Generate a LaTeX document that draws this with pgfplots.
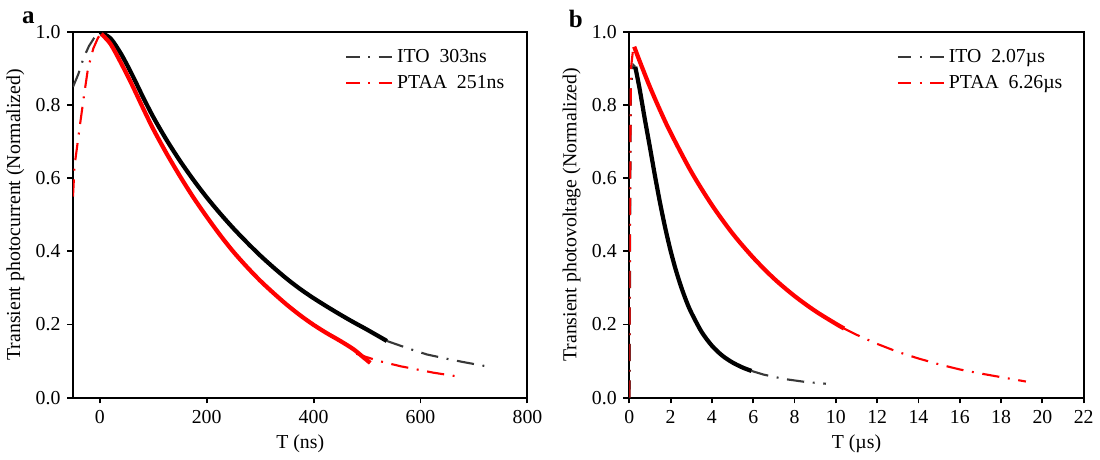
\documentclass[border=0pt]{standalone}
\usepackage{pgfplots}
\pgfplotsset{compat=1.18}
\usepackage{fontspec}
\setmainfont{Liberation Serif}
\definecolor{dgray}{HTML}{383838}
\definecolor{myred}{HTML}{FF0000}
\pgfplotsset{myax/.style={
  scale only axis, width=236.6pt, height=190.3pt,
  ymin=0, ymax=1, ytick={0,0.2,0.4,0.6,0.8,1.0},
  tick align=outside, xtick pos=bottom, ytick pos=left,
  axis line style={line width=1pt},
  major tick length=3pt,
  every tick/.style={black, line width=1pt},
  yticklabel style={/pgf/number format/.cd, fixed, fixed zerofill, precision=1},
  /pgf/number format/assume math mode=true,
  tick label style={font=\fontsize{10.3}{12}\selectfont},
  label style={font=\fontsize{10.3}{12}\selectfont},
  xlabel style={at={(ticklabel cs:0.5)}, anchor=near ticklabel, yshift=1pt},
  ylabel style={at={(ticklabel cs:0.5)}, anchor=near ticklabel, yshift=-1pt},
  legend style={draw=none, fill=none, font=\fontsize{10.3}{12}\selectfont,
     row sep=1pt, anchor=north west},
  legend cell align=left,
  legend image code/.code={\draw[#1, dash pattern=on 7pt off 4.5pt on 1pt off 4.5pt] (0pt,0pt) -- (24pt,0pt);},
  dd/.style={line width=1.1pt, dash pattern=on 9pt off 4.5pt on 1pt off 4.5pt},
  sol/.style={line width=2.2pt},
}}
\begin{document}
\begin{tikzpicture}
\begin{axis}[myax, name=A,
  xmin=-50, xmax=800, xtick={0,200,400,600,800},
  xlabel={T (ns)}, ylabel={Transient photocurrent (Normalized)},
  legend style={at={(rel axis cs:0.585,0.975)}},
]
\addplot[dd, dgray] coordinates {(537,0.155) (580,0.133) (612,0.118) (650,0.106) (681,0.097) (722,0.086)};
\addlegendentry{ITO\ \ 303ns}
\addplot[dd, myred] coordinates {(480,0.120) (520,0.101) (562,0.086) (600,0.075) (625,0.068) (669,0.058)};
\addlegendentry{PTAA\ \ 251ns}
\addplot[dd, dgray, forget plot] coordinates {(-50,0.85) (-40,0.885) (-30,0.93) (-20,0.962) (-10,0.985) (0,1.0)};
\addplot[dd, myred, forget plot] coordinates {(-50,0.55) (-47,0.635) (-42,0.69) (-37.5,0.74) (-30,0.82) (-22,0.9) (-12,0.955) (-3,0.985) (3,0.995)};
\addplot[sol, black, smooth, forget plot] coordinates {(0,1.0) (20,0.983) (40,0.94) (60,0.885) (80,0.825) (100,0.768) (125,0.705) (150,0.648) (175,0.596) (200,0.548) (225,0.504) (250,0.463) (275,0.425) (300,0.389) (325,0.356) (350,0.325) (375,0.297) (400,0.272) (425,0.249) (450,0.227) (475,0.206) (500,0.186) (537,0.155)};
\addplot[sol, myred, smooth, forget plot] coordinates {(3,0.995) (20,0.968) (40,0.915) (60,0.857) (80,0.795) (100,0.735) (125,0.668) (150,0.606) (175,0.548) (200,0.495) (225,0.445) (250,0.399) (275,0.358) (300,0.320) (325,0.286) (350,0.254) (375,0.225) (400,0.199) (425,0.176) (450,0.155) (475,0.132) (490,0.114) (506,0.095)};
\end{axis}
\node[font=\bfseries\fontsize{13}{14}\selectfont, anchor=base west] at ([xshift=-30pt, yshift=4.5pt]A.north west) {a};
\begin{axis}[myax, name=B, xshift=289.6pt,
  xmin=0, xmax=22, xtick={0,2,...,22},
  xlabel={T (µs)}, ylabel={Transient photovoltage (Normalized)},
  legend style={at={(rel axis cs:0.575,0.975)}},
]
\addplot[dd, dgray] coordinates {(5.92,0.073) (6.5,0.063) (7.5,0.051) (8.5,0.043) (9.52,0.038)};
\addlegendentry{ITO\ \ 2.07µs}
\addplot[dd, myred] coordinates {(10.4,0.189) (11,0.172) (12,0.147) (13,0.125) (14,0.107) (15,0.091) (16,0.077) (17,0.066) (18,0.056) (19.2,0.044)};
\addlegendentry{PTAA\ \ 6.26µs}
\addplot[dd, dgray, forget plot] coordinates {(0.02,0) (0.04,0.45) (0.08,0.85) (0.2,0.91) (0.29,0.905)};
\addplot[dd, myred, forget plot] coordinates {(0.0,0) (0.03,0.5) (0.08,0.9) (0.2,0.96) (0.24,0.96)};
\addplot[sol, black, smooth, forget plot] coordinates {(0.29,0.905) (0.5,0.845) (0.75,0.763) (1.0,0.685) (1.25,0.605) (1.5,0.53) (1.75,0.462) (2.0,0.402) (2.25,0.35) (2.5,0.305) (2.75,0.266) (3.0,0.233) (3.5,0.18) (4.0,0.142) (4.5,0.115) (5.0,0.096) (5.5,0.082) (5.92,0.073)};
\addplot[sol, myred, smooth, forget plot] coordinates {(0.24,0.96) (0.5,0.921) (1,0.850) (1.5,0.785) (2,0.725) (3,0.618) (4,0.527) (5,0.449) (6,0.383) (7,0.326) (8,0.278) (9,0.237) (10,0.202) (10.4,0.189)};
\end{axis}
\node[font=\bfseries\fontsize{13}{14}\selectfont, anchor=base west] at ([xshift=-35pt, yshift=2.5pt]B.north west) {b};
\path[use as bounding box] ([xshift=-38pt, yshift=-29.6pt]A.south west) rectangle ++(572pt,236.6pt);
\end{tikzpicture}
\end{document}
